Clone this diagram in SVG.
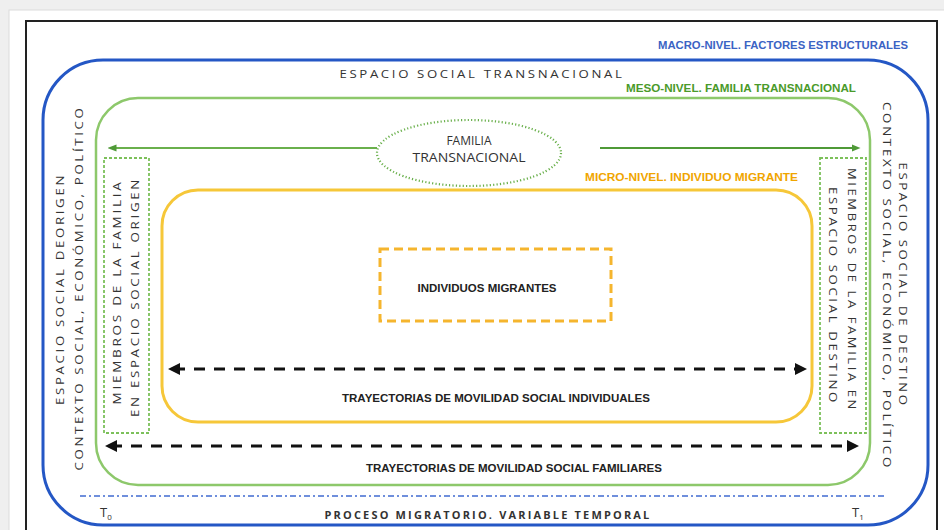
<svg xmlns="http://www.w3.org/2000/svg" width="944" height="530" viewBox="0 0 944 530">
<defs>
<style>
.t{font-family:"Open Sans","Liberation Sans",sans-serif;fill:#333;}
.sp{font-size:11px;letter-spacing:2.2px;}
.b{font-family:"Liberation Sans",Arial,sans-serif;font-weight:bold;font-size:11px;fill:#222;}
.lvl{font-family:"Liberation Sans",Arial,sans-serif;font-weight:bold;font-size:11px;}
.dash{stroke:#111;stroke-width:3;stroke-dasharray:11 9;fill:none;}
</style>
<marker id="ah" viewBox="0 0 10 10" refX="5" refY="5" markerWidth="4" markerHeight="4" orient="auto-start-reverse">
<path d="M0,0 L10,5 L0,10 z" fill="#111"/>
</marker>
<marker id="gh" viewBox="0 0 10 10" refX="5" refY="5" markerWidth="5" markerHeight="5" orient="auto-start-reverse">
<path d="M0,1 L10,5 L0,9 z" fill="#4f9a37"/>
</marker>
</defs>
<rect x="0" y="0" width="944" height="530" fill="#efefef"/>
<rect x="9" y="10" width="940" height="530" fill="#ffffff" stroke="#dcdcdc"/>
<rect x="26" y="21" width="911" height="520" fill="#ffffff" stroke="#222" stroke-width="2"/>

<g id="macro">
<rect x="43" y="60" width="885" height="465" rx="60" ry="60" fill="none" stroke="#2457c5" stroke-width="3"/>
<text class="lvl" x="908" y="49" text-anchor="end" fill="#3b63c4" textLength="250" lengthAdjust="spacingAndGlyphs">MACRO-NIVEL. FACTORES ESTRUCTURALES</text>
<text class="t sp" x="482" y="78" text-anchor="middle" textLength="285" lengthAdjust="spacingAndGlyphs">ESPACIO SOCIAL TRANSNACIONAL</text>
</g>

<g id="origen">
<text class="t sp" transform="translate(64,289) rotate(-90)" text-anchor="middle" textLength="232" lengthAdjust="spacingAndGlyphs">ESPACIO SOCIAL DEORIGEN</text>
<text class="t sp" transform="translate(83,288) rotate(-90)" text-anchor="middle" textLength="365" lengthAdjust="spacingAndGlyphs">CONTEXTO SOCIAL, ECONÓMICO, POLÍTICO</text>
</g>

<g id="destino">
<text class="t sp" transform="translate(899,285) rotate(90)" text-anchor="middle" textLength="245" lengthAdjust="spacingAndGlyphs">ESPACIO SOCIAL DE DESTINO</text>
<text class="t sp" transform="translate(883,286) rotate(90)" text-anchor="middle" textLength="368" lengthAdjust="spacingAndGlyphs">CONTEXTO SOCIAL, ECONÓMICO, POLÍTICO</text>
</g>

<g id="meso">
<rect x="96" y="98" width="774" height="387" rx="42" ry="42" fill="none" stroke="#8dc86b" stroke-width="2.5"/>
<text class="lvl" x="856" y="92" text-anchor="end" fill="#4a9a2a" textLength="230" lengthAdjust="spacingAndGlyphs">MESO-NIVEL. FAMILIA TRANSNACIONAL</text>
</g>

<g id="familia">
<ellipse cx="469" cy="153" rx="92" ry="33" fill="#fff" stroke="#6ab04c" stroke-width="2.2" stroke-dasharray="1.2 2.2"/>
<text class="t" x="469" y="145" text-anchor="middle" font-size="12">FAMILIA</text>
<text class="t" x="469" y="162" text-anchor="middle" font-size="12" textLength="113" lengthAdjust="spacingAndGlyphs">TRANSNACIONAL</text>
</g>

<g id="miembros-origen">
<rect x="104" y="158" width="45" height="275" fill="none" stroke="#7cc05a" stroke-width="1.8" stroke-dasharray="3 2"/>
<text class="t sp" transform="translate(121,292) rotate(-90)" text-anchor="middle" textLength="225" lengthAdjust="spacingAndGlyphs">MIEMBROS DE LA FAMILIA</text>
<text class="t sp" transform="translate(139,297) rotate(-90)" text-anchor="middle" textLength="240" lengthAdjust="spacingAndGlyphs">EN ESPACIO SOCIAL ORIGEN</text>
</g>

<g id="miembros-destino">
<rect x="820" y="158" width="46" height="275" fill="none" stroke="#7cc05a" stroke-width="1.8" stroke-dasharray="3 2"/>
<text class="t sp" transform="translate(848,290) rotate(90)" text-anchor="middle" textLength="244" lengthAdjust="spacingAndGlyphs">MIEMBROS DE LA FAMILIA EN</text>
<text class="t sp" transform="translate(829,296) rotate(90)" text-anchor="middle" textLength="218" lengthAdjust="spacingAndGlyphs">ESPACIO SOCIAL DESTINO</text>
</g>

<g id="micro">
<rect x="162" y="190" width="650" height="232" rx="36" ry="36" fill="none" stroke="#f6c739" stroke-width="3"/>
<text class="lvl" x="798" y="181" text-anchor="end" fill="#f0a500" textLength="213" lengthAdjust="spacingAndGlyphs">MICRO-NIVEL. INDIVIDUO MIGRANTE</text>
</g>

<g id="individuos">
<rect x="380" y="249" width="231" height="72" fill="none" stroke="#f5b52e" stroke-width="3" stroke-dasharray="9 5"/>
<text class="b" x="487" y="292" text-anchor="middle" textLength="139" lengthAdjust="spacingAndGlyphs">INDIVIDUOS MIGRANTES</text>
</g>

<g id="connectors">
<line x1="112" y1="148" x2="377" y2="148" stroke="#6ab04c" stroke-width="1.8" marker-start="url(#gh)"/>
<line x1="600" y1="148" x2="856" y2="148" stroke="#4f9a37" stroke-width="1.8" marker-end="url(#gh)"/>
<line class="dash" x1="174" y1="369" x2="801" y2="369" marker-start="url(#ah)" marker-end="url(#ah)"/>
<line class="dash" x1="111" y1="446" x2="853" y2="446" marker-start="url(#ah)" marker-end="url(#ah)"/>
<line x1="80" y1="496" x2="886" y2="496" stroke="#6f8fdc" stroke-width="2" stroke-dasharray="6 3 2 3"/>
</g>

<g id="labels">
<text class="b" x="496" y="402" text-anchor="middle" textLength="308" lengthAdjust="spacingAndGlyphs">TRAYECTORIAS DE MOVILIDAD SOCIAL INDIVIDUALES</text>
<text class="b" x="514" y="472" text-anchor="middle" textLength="296" lengthAdjust="spacingAndGlyphs">TRAYECTORIAS DE MOVILIDAD SOCIAL FAMILIARES</text>
<text class="t" x="488" y="519" text-anchor="middle" font-size="10" font-weight="bold" letter-spacing="2" textLength="327" lengthAdjust="spacingAndGlyphs">PROCESO MIGRATORIO. VARIABLE TEMPORAL</text>
<text class="t" x="100" y="517" font-size="13">T<tspan font-size="8" dy="3">0</tspan></text>
<text class="t" x="852" y="517" font-size="13">T<tspan font-size="8" dy="3">1</tspan></text>
</g>
</svg>
